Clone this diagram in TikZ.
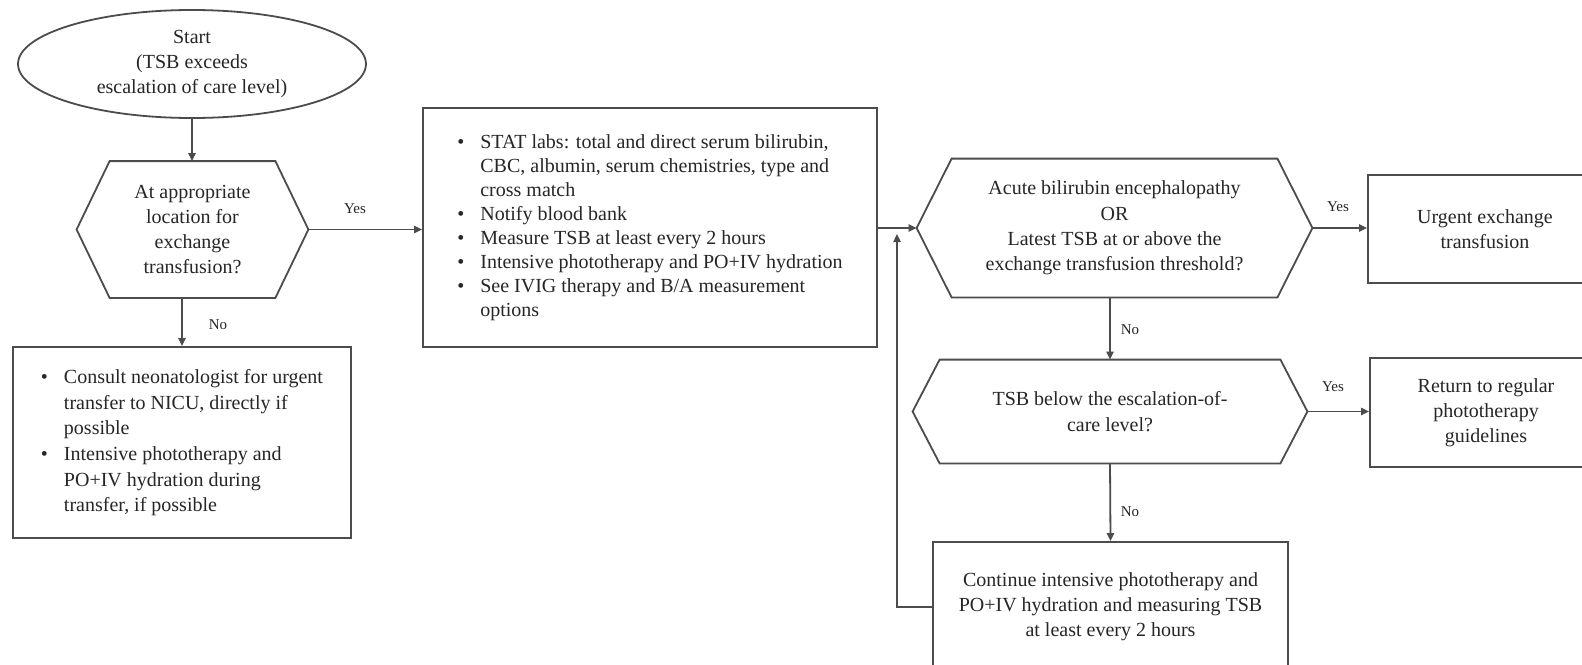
\documentclass[tikz,border=0pt]{standalone}
\usepackage{fontspec}
\setmainfont{Liberation Serif}
\usetikzlibrary{shapes.geometric,arrows.meta,calc}
\newcommand\hexa[2]{\draw[ln] ($(#1.north west)+(#2,0)$) -- ($(#1.north east)+(-#2,0)$) -- (#1.east) -- ($(#1.south east)+(-#2,0)$) -- ($(#1.south west)+(#2,0)$) -- (#1.west) -- cycle;}
\begin{document}
\begin{tikzpicture}[x=0.5pt,y=-0.5pt,
  ln/.style={draw=black!70,line width=0.9pt},
  arr/.style={ln,-{Triangle[length=4pt,width=3.6pt]}},
  txt/.style={text=black!85,font=\fontsize{10}{12.6}\selectfont,align=center,inner sep=0pt},
  bx/.style={txt,ln,rectangle},
  lbl/.style={text=black!85,font=\fontsize{7.5}{9}\selectfont,inner sep=0pt}]
\fill[white] (0,0) rectangle (1582,664);
\useasboundingbox (0,0) rectangle (1582,664);

% start ellipse
\node[txt,ln,ellipse,minimum width=174pt,minimum height=54pt] (e) at (192,64)
  {Start\\(TSB exceeds\\escalation of care level)};

% hexagon 1
\node[txt,minimum width=115.5pt,minimum height=68pt] (h1) at (192.5,229.5)
  {At appropriate\\location for\\exchange\\transfusion?};
\hexa{h1}{33}

% consult box
\node[bx,align=left,minimum width=169pt,minimum height=95.5pt,font=\fontsize{10}{12.8}\selectfont] (b1) at (182,442.5)
  {\begin{tabular}{@{}l@{\hspace{8pt}}l@{}}
   \textbullet & Consult neonatologist for urgent\\
   & transfer to NICU, directly if\\
   & possible\\
   \textbullet & Intensive phototherapy and\\
   & PO+IV hydration during\\
   & transfer, if possible
   \end{tabular}};

% middle box
\node[bx,align=left,minimum width=227pt,minimum height=119.5pt,font=\fontsize{10}{12}\selectfont] (m) at (650,227.5)
  {\begin{tabular}{@{}l@{\hspace{8pt}}l@{}}
   \textbullet & STAT labs: total and direct serum bilirubin,\\
   & CBC, albumin, serum chemistries, type and\\
   & cross match\\
   \textbullet & Notify blood bank\\
   \textbullet & Measure TSB at least every 2 hours\\
   \textbullet & Intensive phototherapy and PO+IV hydration\\
   \textbullet & See IVIG therapy and B/A measurement\\
   & options
   \end{tabular}};

% hexagon 2
\node[txt,minimum width=197.5pt,minimum height=69pt] (h2) at (1114.5,228)
  {Acute bilirubin encephalopathy\\OR\\Latest TSB at or above the\\exchange transfusion threshold?};
\hexa{h2}{35}

% urgent box
\node[bx,minimum width=117pt,minimum height=54pt] (u) at (1485,229)
  {Urgent exchange\\transfusion};

% hexagon 3
\node[txt,minimum width=197pt,minimum height=51.5pt] (h3) at (1110,411.5)
  {TSB below the escalation-of-\\care level?};
\hexa{h3}{27}

% return box
\node[bx,minimum width=116pt,minimum height=54.5pt] (r) at (1486,412.5)
  {Return to regular\\phototherapy\\guidelines};

% continue box
\node[bx,minimum width=177.5pt,minimum height=65pt] (c) at (1110.5,607)
  {Continue intensive phototherapy and\\PO+IV hydration and measuring TSB\\at least every 2 hours};

\coordinate (fb) at (897,228);

% connectors
\draw[arr] (e.south) -- (e.south |- h1.north);
\draw[arr] (h1.east) -- (h1.east -| m.west);
\draw[arr] (b1.north |- h1.south) -- (b1.north);
\draw[arr] (m.east |- h2.west) -- (h2.west);
\draw[arr] (h2.east) -- (h2.east -| u.west);
\draw[arr] (h3.north |- h2.south) -- (h3.north);
\draw[arr] (h3.east) -- (h3.east -| r.west);
\draw[arr] (h3.south) -- (c.north);
\draw[arr] (c.west) -| ($(fb)+(0,6)$);

% labels
\node[lbl] (y1) at (355,209) {Yes};
\node[lbl] (n1) at (218,325) {No};
\node[lbl] (y2) at (1338,207) {Yes};
\node[lbl] (n2) at (1130,330) {No};
\node[lbl] (y3) at (1333,387) {Yes};
\node[lbl] (n3) at (1130,512) {No};
\end{tikzpicture}
\end{document}
